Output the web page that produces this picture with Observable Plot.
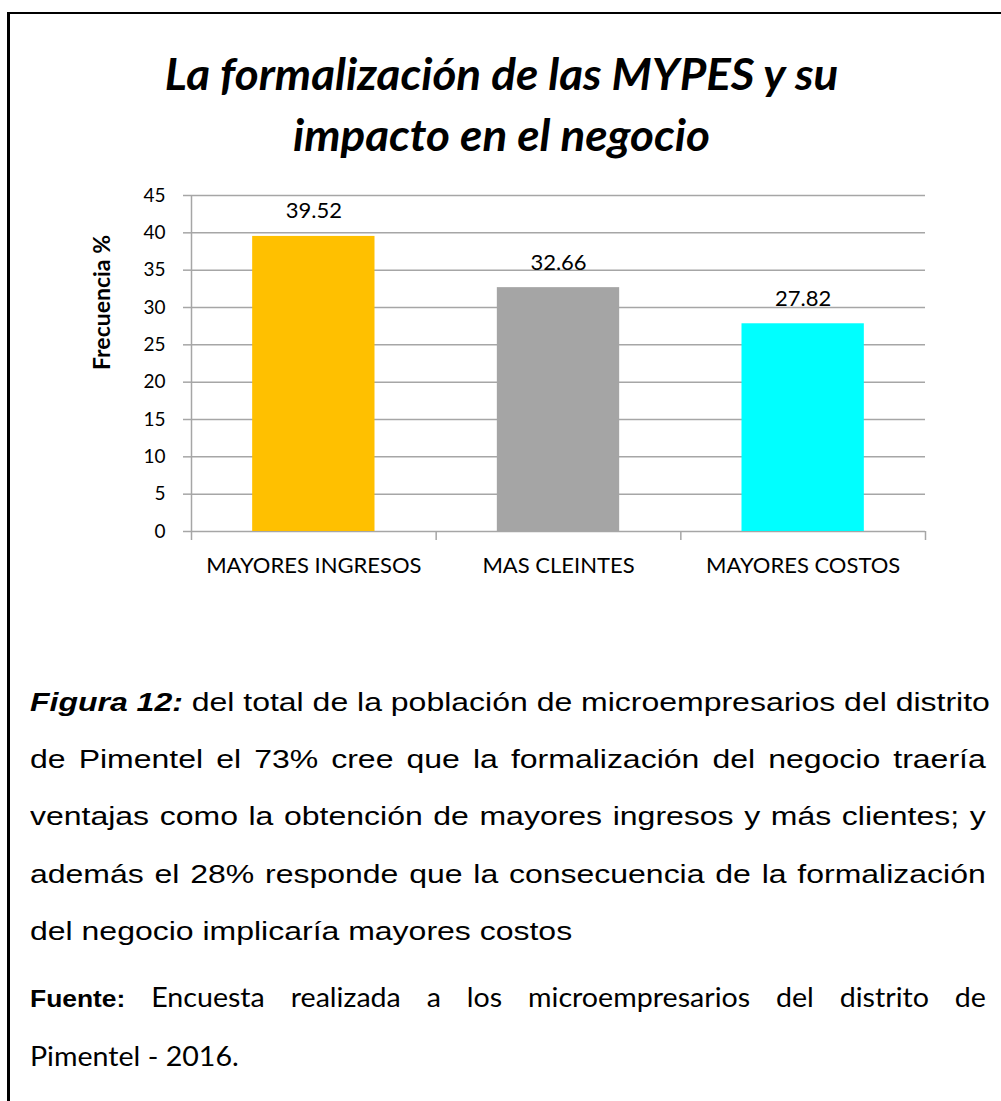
<!DOCTYPE html>
<html>
<head>
<meta charset="utf-8">
<script src="https://cdn.jsdelivr.net/npm/d3@7"></script>
<script src="https://cdn.jsdelivr.net/npm/@observablehq/plot@0.6"></script>
<style>
  html, body { margin: 0; padding: 0; background: #fff; }
  #page { position: relative; width: 1001px; height: 1101px; overflow: hidden; background: #fff; }
  #border { position: absolute; left: 7px; top: 12px; width: 1100px; height: 1200px; z-index: 10;
            border-left: 3px solid #000; border-top: 2px solid #000; background: transparent; pointer-events: none; }
  .title { position: absolute; left: 0; width: 1003px; text-align: center;
           font-family: Lato, sans-serif; font-weight: bold; font-style: italic;
           font-size: 43px; line-height: 43px; color: #000; white-space: nowrap;
           transform: scaleX(1.065); transform-origin: 502px 0; }
  #chart { position: absolute; left: 0; top: 170px; }
  .cap { position: absolute; left: 30px; width: 777px; font-family: "Liberation Sans", Arial, sans-serif;
         font-size: 26px; line-height: 26px; color: #000; white-space: nowrap;
         text-align: justify; text-align-last: justify;
         transform: scaleX(1.23); transform-origin: 0 0; }
  .cap.last { text-align: left; text-align-last: left; }
  .src { font-family: Lato, sans-serif; font-size: 26px; line-height: 26px;
         width: 869px; transform: scaleX(1.10); }
  .src b { font-family: "Liberation Sans", Arial, sans-serif; font-size: 24px; }
</style>
</head>
<body>
<div id="page">
  <div class="title" style="top:52px">La formalización de las MYPES y su</div>
  <div class="title" style="top:113px">impacto en el negocio</div>
  <div id="chart"></div>
  <div class="cap" style="top:689px"><b><i>Figura 12:</i></b> del total de la población de microempresarios del distrito</div>
  <div class="cap" style="top:746px">de Pimentel el 73% cree que la formalización del negocio traería</div>
  <div class="cap" style="top:803px">ventajas como la obtención de mayores ingresos y más clientes; y</div>
  <div class="cap" style="top:861px">además el 28% responde que la consecuencia de la formalización</div>
  <div class="cap last" style="top:918px">del negocio implicaría mayores costos</div>
  <div class="cap src" style="top:984px"><b>Fuente:</b> Encuesta realizada a los microempresarios del distrito de</div>
  <div class="cap src last" style="top:1043px">Pimentel - 2016.</div>
  <div id="border"></div>
</div>
<script>
const categories = ["MAYORES INGRESOS", "MAS CLEINTES", "MAYORES COSTOS"];
const values = [39.52, 32.66, 27.82];
const colors = ["#FFC000", "#A5A5A5", "#00FFFF"];
const yTicks = [0, 5, 10, 15, 20, 25, 30, 35, 40, 45];
const yLabel = "Frecuencia %";

const data = categories.map((c, i) => ({category: c, value: values[i], color: colors[i], i}));
const gray = "#a6a6a6";

const chart = Plot.plot({
  width: 1001,
  height: 420,
  marginLeft: 191,
  marginRight: 76,
  marginTop: 25,
  marginBottom: 59,
  x: {type: "linear", domain: [0, categories.length], axis: null},
  y: {domain: [0, 45], axis: null},
  style: {fontFamily: "Lato, sans-serif", color: "#000", background: "transparent", overflow: "visible"},
  marks: [
    Plot.gridY(yTicks, {stroke: gray, strokeOpacity: 1, strokeWidth: 1.5}),
    Plot.axisY({ticks: yTicks, tickSize: 8, tickPadding: 18, stroke: gray, strokeWidth: 1.5,
                fontSize: 19, label: null, tickFormat: d => String(d)}),
    Plot.ruleX([0], {stroke: gray, strokeWidth: 1.5}),
    Plot.axisX({ticks: d3.range(categories.length + 1), tickSize: 9, stroke: gray, strokeWidth: 1.5,
                tickFormat: () => "", label: null}),
    Plot.rectY(data, {x1: d => d.i + 0.25, x2: d => d.i + 0.75, y: "value", fill: "color"}),
    Plot.text(data, {x: d => d.i + 0.5, y: "value", text: d => d.value.toFixed(2),
                     dy: -25, fontSize: 22, lineAnchor: "middle", fill: "#000"}),
    Plot.axisX({ticks: categories.map((c, i) => i + 0.5), tickSize: 0, tickPadding: 26,
                fontSize: 22, tickFormat: d => categories[Math.floor(d)], label: null}),
    Plot.text([yLabel], {frameAnchor: "top-left", dx: -98, dy: 107, rotate: -90,
                         fontWeight: "bold", fontSize: 23, textAnchor: "middle", fill: "#000"})
  ]
});
document.getElementById("chart").appendChild(chart);
</script>
</body>
</html>
